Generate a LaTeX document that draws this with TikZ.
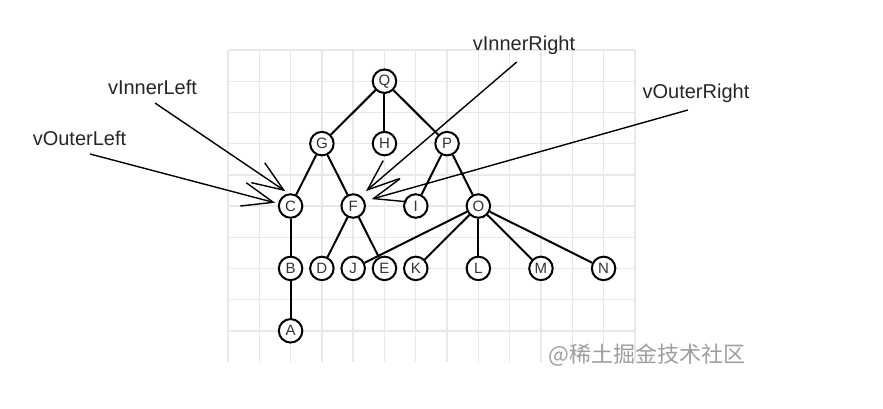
\documentclass[tikz,border=0pt]{standalone}
\usepackage{fontspec}
\setmainfont{Liberation Sans}
\newfontfamily\cjkfont{Noto Sans CJK SC}
\usetikzlibrary{arrows.meta}

\tikzset{
  vert/.style={circle, draw, line width=2pt, fill=white, minimum size=23.5pt,
    inner sep=0pt, text=black!80, font=\fontsize{15}{15}\selectfont},
  edge/.style={line width=2pt},
  pointer/.style={line width=1.4pt, ->},
  tag/.style={font=\fontsize{20}{20}\selectfont, text=black!85}
}

\begin{document}
\begin{tikzpicture}[x=31.3pt, y=31.2pt, >={Straight Barb[length=31pt, width=24pt]}]
    \useasboundingbox (-7.284,-1.506) rectangle (20.927,11.603);

    % grid
    \foreach \i in {0,...,13}
        \draw[black!9, line width=1.4pt] (\i,0) -- (\i,10);
    \foreach \j in {1,...,10}
        \draw[black!9, line width=1.4pt] (0,\j) -- (13,\j);

    % vertices
    \node[vert] (Q) at (5,9) {Q};
    \node[vert] (G) at (3,7) {G};
    \node[vert] (H) at (5,7) {H};
    \node[vert] (P) at (7,7) {P};
    \node[vert] (C) at (2,5) {C};
    \node[vert] (F) at (4,5) {F};
    \node[vert] (I) at (6,5) {I};
    \node[vert] (O) at (8,5) {O};
    \node[vert] (B) at (2,3) {B};
    \node[vert] (D) at (3,3) {D};
    \node[vert] (J) at (4,3) {J};
    \node[vert] (E) at (5,3) {E};
    \node[vert] (K) at (6,3) {K};
    \node[vert] (L) at (8,3) {L};
    \node[vert] (M) at (10,3) {M};
    \node[vert] (N) at (12,3) {N};
    \node[vert] (A) at (2,1) {A};

    % tree edges
    \draw[edge] (Q) -- (G);
    \draw[edge] (Q) -- (H);
    \draw[edge] (Q) -- (P);
    \draw[edge] (G) -- (C);
    \draw[edge] (G) -- (F);
    \draw[edge] (P) -- (I);
    \draw[edge] (P) -- (O);
    \draw[edge] (C) -- (B);
    \draw[edge] (B) -- (A);
    \draw[edge] (F) -- (D);
    \draw[edge] (F) -- (E);
    \foreach \c in {J,K,L,M,N}
        \draw[edge] (O) -- (\c);

    % labels and pointers
    \node[tag] (innerL) at (-2.412,8.814) {vInnerLeft};
    \node[tag] (outerL) at (-4.744,7.179) {vOuterLeft};
    \node[tag] (innerR) at (9.457,10.160) {vInnerRight};
    \node[tag] (outerR) at (14.952,8.622) {vOuterRight};

    \coordinate (sIL) at (-2.332,8.301);
    \coordinate (sOL) at (-4.409,6.667);
    \coordinate (sIR) at (9.224,9.615);
    \coordinate (sOR) at (14.696,8.077);

    \draw[pointer, shorten >=4pt] (sIL) -- (C.99);
    \draw[pointer, shorten >=3pt] (sOL) -- (C.169);
    \draw[pointer, shorten >=7pt] (sIR) -- (F.54);
    \draw[pointer, shorten >=7pt] (sOR) -- (F.23);

    \node[text=black!38, font=\cjkfont\fontsize{22}{22}\selectfont] (mark) at (13.387,0.224) {@稀土掘金技术社区};
\end{tikzpicture}
\end{document}
